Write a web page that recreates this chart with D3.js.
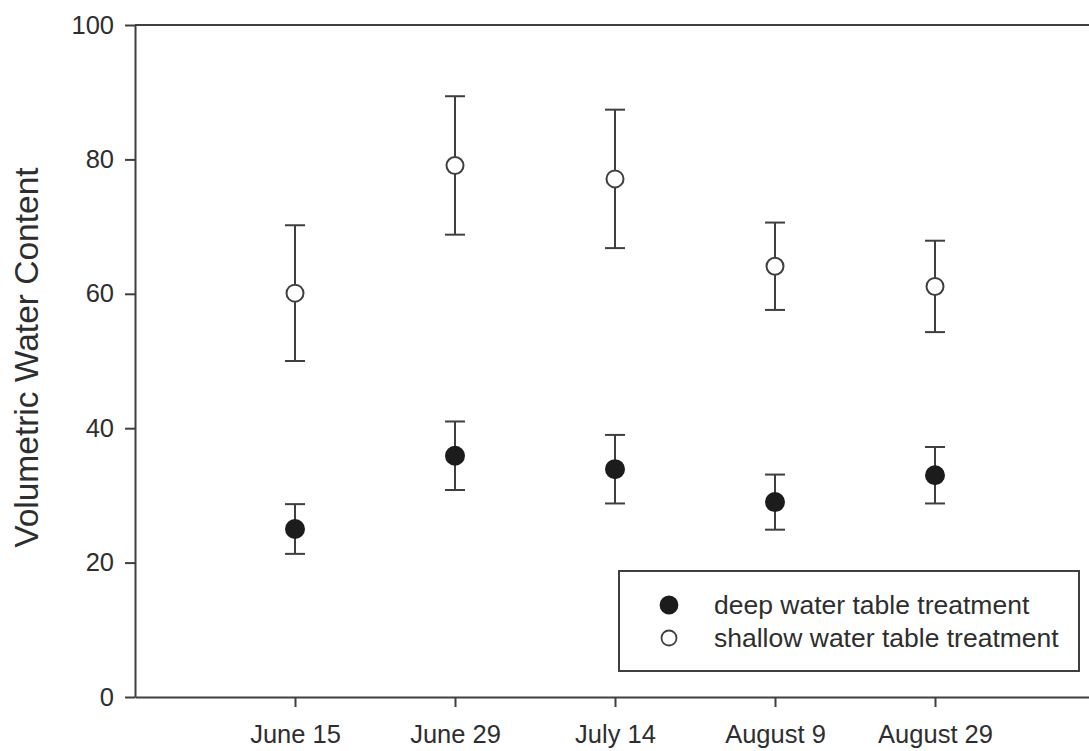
<!DOCTYPE html>
<html><head><meta charset="utf-8">
<script src="https://cdn.jsdelivr.net/npm/d3@7"></script>
<style>body{margin:0;background:#fff}svg{display:block}text{font-family:"Liberation Sans",Arial,sans-serif;fill:#2e2e2e}</style>
</head><body><svg id="c" width="1089" height="751"></svg>
<script>
const categories = ["June 15","June 29","July 14","August 9","August 29"];
const deepMean = [25.0, 35.9, 33.9, 29.0, 33.0];
const deepErr  = [3.7, 5.1, 5.1, 4.1, 4.2];
const shallowMean = [60.1, 79.1, 77.1, 64.1, 61.1];
const shallowErr  = [10.1, 10.3, 10.3, 6.5, 6.8];
const yTicks = [0,20,40,60,80,100];
const seriesNames = ["deep water table treatment","shallow water table treatment"];

const svg = d3.select("#c");
const x = d3.scaleLinear().domain([0,6]).range([135,1095]);
const y = d3.scaleLinear().domain([0,100]).range([697,25]);
const stroke = "#3f3f3f";

const yAxis = svg.append("g").attr("transform","translate(135,0)")
  .call(d3.axisLeft(y).tickValues(yTicks).tickSize(10).tickSizeOuter(0).tickPadding(11));
const xAxis = svg.append("g").attr("transform","translate(0,697)")
  .call(d3.axisBottom(x).tickValues(categories.map((d,i)=>i+1)).tickFormat((d)=>categories[d-1]).tickSize(10).tickSizeOuter(0).tickPadding(13));
[yAxis,xAxis].forEach(g=>{
  g.attr("font-size",null).attr("font-family",null);
  g.selectAll("path,line").attr("stroke",stroke).attr("stroke-width",2);
  g.selectAll("text").attr("font-size",25.5).attr("fill","#2e2e2e");
});
xAxis.selectAll("text").attr("dy","0.9em");
svg.append("line").attr("x1",x(0)).attr("x2",x(6)).attr("y1",y(100)).attr("y2",y(100)).attr("stroke",stroke).attr("stroke-width",2);

svg.append("text").attr("transform","translate(26,"+y(50.5)+") rotate(-90)")
  .attr("text-anchor","middle").attr("dominant-baseline","central").attr("font-size",33.5)
  .text("Volumetric Water Content");

function drawSeries(means, errs, filled){
  const g = svg.append("g");
  means.forEach((m,i)=>{
    const cx = x(i+1), e = errs[i];
    g.append("line").attr("x1",cx).attr("x2",cx).attr("y1",y(m+e)).attr("y2",y(m-e)).attr("stroke",stroke).attr("stroke-width",2);
    [m+e,m-e].forEach(v=>g.append("line").attr("x1",cx-10).attr("x2",cx+10).attr("y1",y(v)).attr("y2",y(v)).attr("stroke",stroke).attr("stroke-width",2));
  });
  g.selectAll("circle").data(means).join("circle")
    .attr("cx",(d,i)=>x(i+1)).attr("cy",d=>y(d))
    .attr("r",filled?9:8.5)
    .attr("fill",filled?"#1c1c1c":"#fff")
    .attr("stroke",filled?"#1c1c1c":stroke).attr("stroke-width",2);
}
drawSeries(shallowMean, shallowErr, false);
drawSeries(deepMean, deepErr, true);

const lg = svg.append("g");
lg.append("rect").attr("x",619).attr("y",571).attr("width",460).attr("height",100)
  .attr("fill","#fff").attr("stroke",stroke).attr("stroke-width",2);
seriesNames.forEach((n,i)=>{
  const yy = 605 + i*33;
  lg.append("circle").attr("cx",669).attr("cy",yy).attr("r",i===0?8.5:7.5)
    .attr("fill",i===0?"#1c1c1c":"#fff").attr("stroke",i===0?"#1c1c1c":stroke).attr("stroke-width",1.8);
  lg.append("text").attr("x",714).attr("y",yy).attr("dominant-baseline","central").attr("font-size",26.5).text(n);
});
</script></body></html>
